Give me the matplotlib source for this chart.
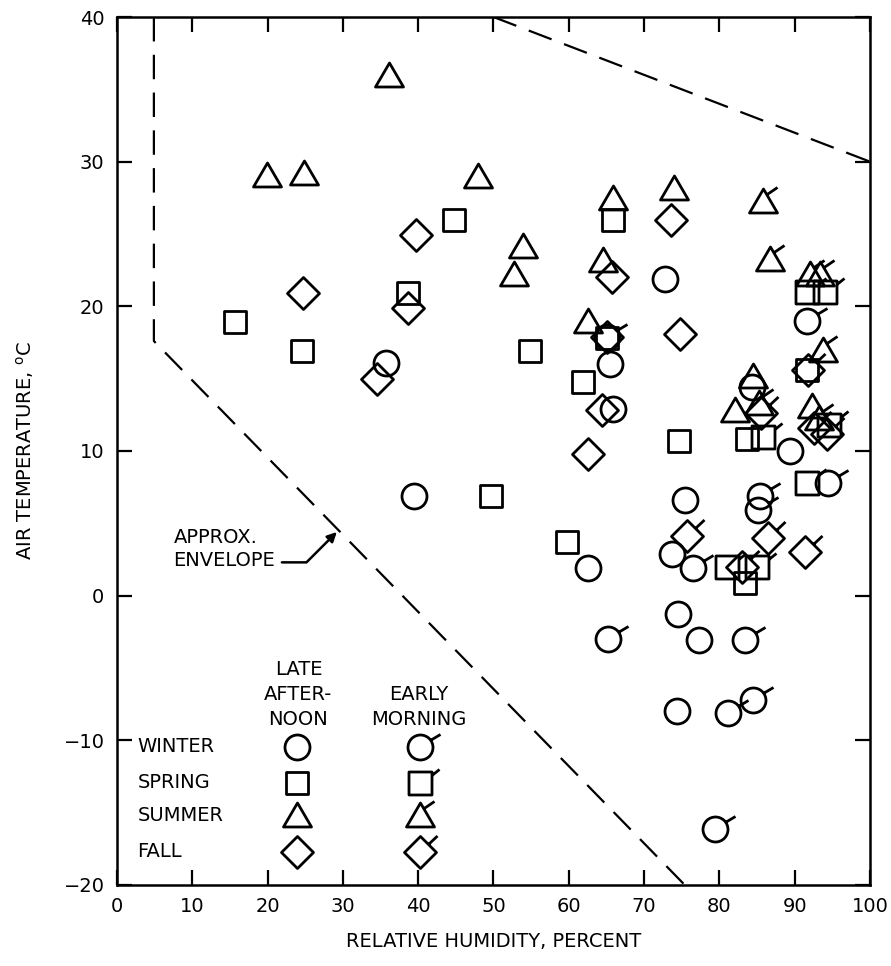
import numpy as np
import matplotlib
matplotlib.use("Agg")
import matplotlib.pyplot as plt
from matplotlib.path import Path

# Data (relative humidity %, air temperature degC)
# late afternoon = open symbol, early morning = symbol with tick
winter_late_x = [35.7, 39.4, 62.6, 65.5, 65.9, 72.8, 73.7, 75.4, 74.5, 77.3, 74.4, 84.3, 89.4]
winter_late_y = [16.1, 6.9, 1.9, 16.0, 12.9, 21.9, 2.9, 6.6, -1.3, -3.1, -8.0, 14.4, 10.0]
winter_early_x = [65.2, 76.5, 83.4, 81.1, 84.5, 79.4, 85.4, 85.1, 94.4, 91.6, 65.1]
winter_early_y = [-3.0, 1.9, -3.1, -8.1, -7.2, -16.1, 6.9, 5.9, 7.8, 19.0, 17.9]

spring_late_x = [15.7, 24.6, 38.6, 44.8, 54.8, 61.9, 49.7, 59.8, 65.9, 74.6, 83.4, 83.7, 65.1, 91.6]
spring_late_y = [18.9, 16.9, 20.9, 26.0, 16.9, 14.8, 6.9, 3.7, 26.0, 10.7, 0.9, 10.8, 17.8, 15.6]
spring_early_x = [91.6, 94.0, 91.6, 81.0, 85.0, 85.8, 94.5]
spring_early_y = [21.0, 21.0, 7.8, 2.0, 2.0, 11.0, 11.8]

summer_late_x = [19.9, 24.8, 36.1, 47.9, 53.9, 52.7, 62.6, 64.5, 65.9, 74.0, 84.5, 82.1, 92.3]
summer_late_y = [29.1, 29.2, 36.0, 29.0, 24.2, 22.2, 19.0, 23.2, 27.5, 28.2, 15.2, 12.8, 13.1]
summer_early_x = [85.8, 86.7, 92.0, 93.4, 93.8, 85.2, 93.2]
summer_early_y = [27.3, 23.3, 22.2, 22.2, 17.0, 13.3, 12.3]

fall_late_x = [24.7, 38.6, 39.7, 34.5, 65.7, 73.6, 74.8, 64.4, 62.6, 65.1]
fall_late_y = [20.9, 19.9, 24.9, 15.0, 22.0, 26.0, 18.1, 12.8, 9.8, 17.9]
fall_early_x = [75.7, 86.5, 91.4, 83.0, 91.8, 85.5, 92.6, 94.3]
fall_early_y = [4.1, 4.0, 3.0, 2.0, 15.6, 12.6, 11.6, 11.2]

# approximate envelope
env_left_x = [4.9, 4.9, 75.4]
env_left_y = [40, 17.6, -20]
env_right_x = [50, 100]
env_right_y = [40, 30]

seasons = ["WINTER", "SPRING", "SUMMER", "FALL"]


# symbol shapes in pixel units, flag = short tick for early morning
def shape(kind):
    if kind == "circle":
        return Path.unit_circle().transformed(matplotlib.transforms.Affine2D().scale(12.5))
    if kind == "square":
        v = [(-11.5, -11.5), (11.5, -11.5), (11.5, 11.5), (-11.5, 11.5), (0, 0)]
    elif kind == "triangle":
        v = [(-14, -11.5), (14, -11.5), (0, 12.5), (-14, -11.5), (0, 0)]
    else:
        v = [(0, -16), (16, 0), (0, 16), (-16, 0), (0, 0)]
    return Path(v, [Path.MOVETO] + [Path.LINETO] * 3 + [Path.CLOSEPOLY])


flags = {
    "circle": [(10.2, 7.2), (20, 13)],
    "square": [(11.5, 8), (19, 14)],
    "triangle": [(3, 6.5), (14, 14)],
    "diamond": [(8, 8), (17, 16.5)],
}


def marker(kind, early):
    p = shape(kind)
    if early:
        f = Path(flags[kind], [Path.MOVETO, Path.LINETO])
        p = Path.make_compound_path(p, f)
    ext = np.max(np.abs(p.vertices))
    return p, 2 * ext * 0.72


fig = plt.figure(figsize=(8.91, 9.66), dpi=100)
ax = fig.add_axes([0.1313, 0.0839, 0.8451, 0.8985])

groups = [
    ("circle", winter_late_x, winter_late_y, winter_early_x, winter_early_y),
    ("square", spring_late_x, spring_late_y, spring_early_x, spring_early_y),
    ("triangle", summer_late_x, summer_late_y, summer_early_x, summer_early_y),
    ("diamond", fall_late_x, fall_late_y, fall_early_x, fall_early_y),
]

for kind, lx, ly, ex, ey in groups:
    for xs, ys, early in [(lx, ly, False), (ex, ey, True)]:
        m, ms = marker(kind, early)
        ax.plot(xs, ys, linestyle="none", marker=m, markersize=ms,
                mfc="none", mec="black", mew=2.0, clip_on=False)

ax.plot(env_left_x, env_left_y, color="black", lw=1.6, dashes=(11, 6))
ax.plot(env_right_x, env_right_y, color="black", lw=1.6, dashes=(11, 6))

ax.text(21.0, 3.2, "APPROX.\nENVELOPE", fontsize=14, ha="right", va="center",
        multialignment="left", linespacing=1.25)
ax.annotate("", xy=(29.2, 4.4), xytext=(21.9, 2.3),
            arrowprops=dict(arrowstyle="-|>", color="black", lw=1.8,
                            connectionstyle="angle,angleA=0,angleB=45,rad=0",
                            shrinkA=0, shrinkB=0, mutation_scale=14))

# hand-made key
row_y = [0.159, 0.118, 0.0805, 0.038]
kinds = ["circle", "square", "triangle", "diamond"]
for name, yk, kind in zip(seasons, row_y, kinds):
    ax.text(0.027, yk, name, transform=ax.transAxes, fontsize=14,
            ha="left", va="center")
    for xk, early in [(0.239, False), (0.402, True)]:
        m, ms = marker(kind, early)
        ax.plot([xk], [yk], transform=ax.transAxes, linestyle="none",
                marker=m, markersize=ms, mfc="none", mec="black", mew=2.0)
ax.text(0.241, 0.18, "LATE\nAFTER-\nNOON", transform=ax.transAxes, fontsize=14,
        ha="center", va="bottom", linespacing=1.38)
ax.text(0.401, 0.18, "EARLY\nMORNING", transform=ax.transAxes, fontsize=14,
        ha="center", va="bottom", linespacing=1.38)

ax.set_xlim(0, 100)
ax.set_ylim(-20, 40)
ax.set_xticks(np.arange(0, 101, 10))
ax.set_yticks(np.arange(-20, 41, 10))
ax.tick_params(direction="in", length=11, width=1.6, top=True, right=True,
               labelsize=14, pad=9)
for s in ax.spines.values():
    s.set_linewidth(1.8)
ax.set_xlabel("RELATIVE HUMIDITY, PERCENT", fontsize=14, labelpad=11)
ax.set_ylabel(r"AIR TEMPERATURE, $^{\mathrm{o}}$C", fontsize=14, labelpad=20)

fig.savefig("out.png", dpi=100)
